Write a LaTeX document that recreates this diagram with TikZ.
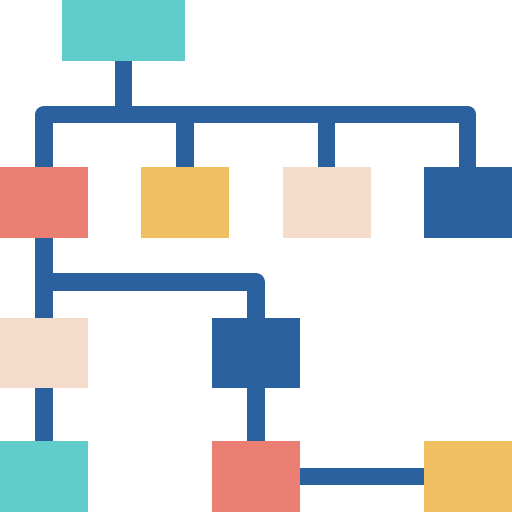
\documentclass[tikz,border=0pt]{standalone}
\usepackage{tikz}
\usetikzlibrary{positioning}
\definecolor{cteal}{HTML}{60CDCB}
\definecolor{cblue}{HTML}{2B609F}
\definecolor{cred}{HTML}{EB7E72}
\definecolor{cyellow}{HTML}{EFBF62}
\definecolor{cpeach}{HTML}{F5DCCA}
\tikzstyle{box} = [rectangle, inner sep=0pt, outer sep=0pt, minimum width=88pt, minimum height=71pt]
\tikzstyle{wire} = [line width=17.5pt, draw=cblue, line join=round]

\begin{document}
\begin{tikzpicture}[x=1pt, y=-1pt]
  \useasboundingbox (0,0) rectangle (512,512);

  % Boxes
  \node[box, fill=cteal, minimum width=123pt, minimum height=61pt] (root) at (123.5,30.5) {};
  \node[box, fill=cred] (red1) at (44,202.5) {};
  \node[box, fill=cyellow] (yel1) at (185,202.5) {};
  \node[box, fill=cpeach] (pea1) at (326.5,202.5) {};
  \node[box, fill=cblue] (blu1) at (467.5,202.5) {};
  \node[box, fill=cpeach, minimum height=70pt] (pea2) at (44,353) {};
  \node[box, fill=cblue, minimum height=70pt] (blu2) at (256,353) {};
  \node[box, fill=cteal] (teal3) at (44,476.5) {};
  \node[box, fill=cred] (red3) at (256,476.5) {};
  \node[box, fill=cyellow] (yel3) at (467.5,476.5) {};

  % Bars
  \coordinate (bar) at (300,114.5);
  \coordinate (bar2) at (150,282);

  % Connectors
  \draw[wire] (red1.north) |- (bar) -| (blu1.north);
  \draw[wire] (root.south) -- (root.south |- bar);
  \draw[wire] (yel1.north) -- (yel1.north |- bar);
  \draw[wire] (pea1.north) -- (pea1.north |- bar);
  \draw[wire] (red1.south) -- (pea2.north);
  \draw[wire] (red1.south |- bar2) -| (blu2.north);
  \draw[wire] (pea2.south) -- (teal3.north);
  \draw[wire] (blu2.south) -- (red3.north);
  \draw[wire] (red3.east) -- (yel3.west);
\end{tikzpicture}
\end{document}
